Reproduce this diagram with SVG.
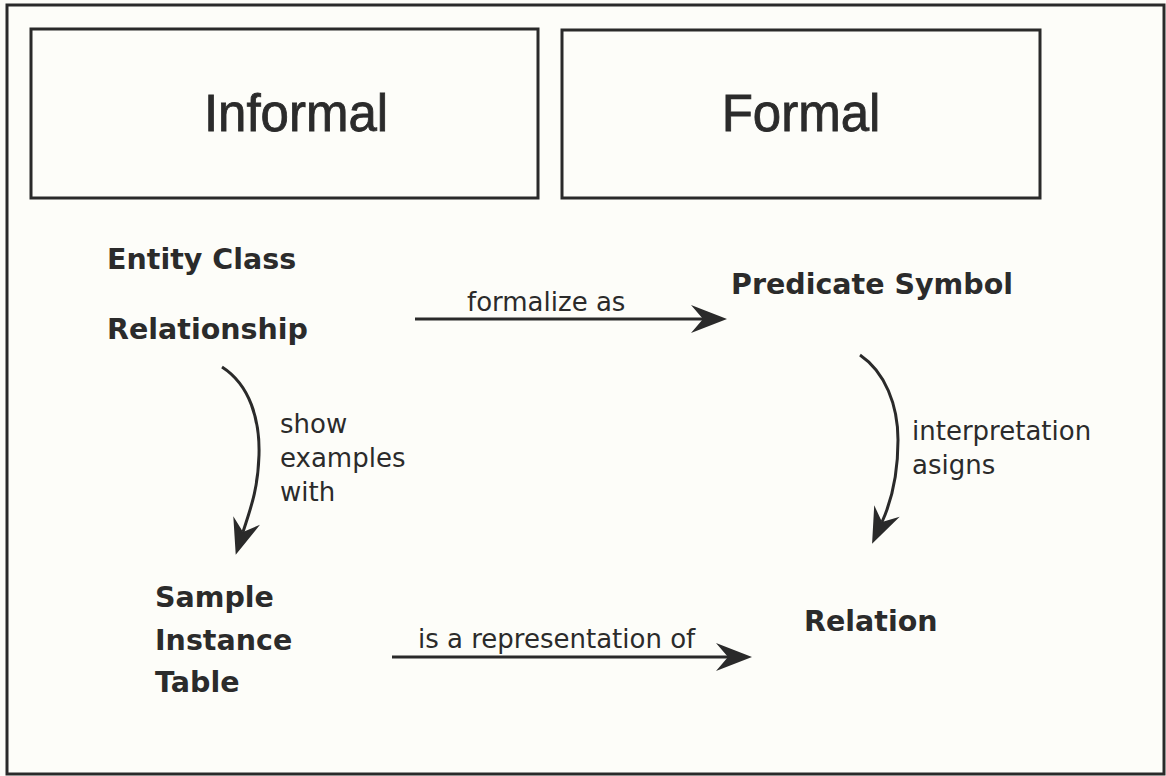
<svg xmlns="http://www.w3.org/2000/svg" width="1166" height="776" viewBox="0 0 1166 776">
  <style>
    .frame { fill: none; stroke: #2a2a2a; stroke-width: 3; }
    .title { font-family: "Liberation Sans", Arial, sans-serif; font-size: 51px; fill: #2b2b2b; stroke: #2b2b2b; stroke-width: 0.8; text-anchor: middle; }
    .node { font-family: "DejaVu Sans", sans-serif; font-weight: bold; font-size: 28.5px; fill: #2b2b2b; }
    .lbl { font-family: "DejaVu Sans", sans-serif; font-size: 26px; fill: #2b2b2b; }
    .conn { fill: none; stroke: #2a2a2a; stroke-width: 3; marker-end: url(#head); }
  </style>
  <defs>
    <marker id="head" markerUnits="userSpaceOnUse" viewBox="-14 -16 40 32" refX="0" refY="0" markerWidth="40" markerHeight="32" orient="auto">
      <path d="M24,0 L-12,-14 L0,0 L-12,14 Z" fill="#2a2a2a"/>
    </marker>
  </defs>
  <rect x="0" y="0" width="1166" height="776" fill="#fdfdf9"/>
  <rect class="frame" x="7" y="5" width="1157" height="769"/>

  <g id="informal">
    <rect class="frame" x="31" y="29" width="507" height="169"/>
    <text class="title" x="296" y="131">Informal</text>
  </g>
  <g id="formal">
    <rect class="frame" x="562" y="30" width="478" height="168"/>
    <text class="title" x="801" y="131">Formal</text>
  </g>

  <g id="entity-class">
    <text class="node" x="107" y="269">Entity Class</text>
  </g>
  <g id="relationship">
    <text class="node" x="107" y="339">Relationship</text>
  </g>
  <g id="predicate-symbol">
    <text class="node" x="731" y="294">Predicate Symbol</text>
  </g>
  <g id="sample-instance-table">
    <text class="node" x="155" y="607">Sample</text>
    <text class="node" x="155" y="650">Instance</text>
    <text class="node" x="155" y="692">Table</text>
  </g>
  <g id="relation">
    <text class="node" x="804" y="631">Relation</text>
  </g>

  <g id="connectors">
    <path class="conn" d="M415,319 L703,319"/>
    <text class="lbl" x="467" y="311">formalize as</text>

    <path class="conn" d="M222,367 C250,385 260,420 259,455 C258,490 250,510 243,532"/>
    <text class="lbl" x="280" y="433">show</text>
    <text class="lbl" x="280" y="467">examples</text>
    <text class="lbl" x="280" y="501">with</text>

    <path class="conn" d="M860,355 C885,372 898,405 898,440 C898,475 892,500 882,522"/>
    <text class="lbl" x="912" y="440">interpretation</text>
    <text class="lbl" x="912" y="474">asigns</text>

    <path class="conn" d="M392,657 L728,657"/>
    <text class="lbl" x="418" y="648">is a representation of</text>
  </g>
</svg>
